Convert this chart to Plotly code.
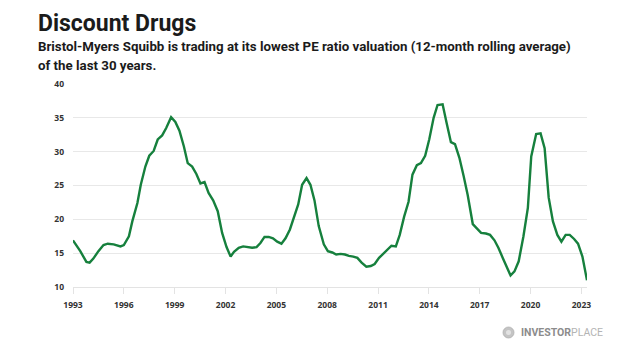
import plotly.graph_objects as go

W, H = 624, 351
ML, MR, MT, MB = 73, 37, 84, 64

years = [1993.00, 1993.43, 1993.79, 1993.98, 1994.20, 1994.50, 1994.80, 1995.05, 1995.40, 1995.80,
         1996.00, 1996.30, 1996.50, 1996.80, 1997.00, 1997.27, 1997.50, 1997.76, 1998.00, 1998.26,
         1998.50, 1998.79, 1999.04, 1999.28, 1999.54, 1999.77, 2000.03, 2000.28, 2000.52, 2000.76,
         2001.00, 2001.27, 2001.54, 2001.80, 2002.06, 2002.30, 2002.50, 2002.78, 2003.04, 2003.28,
         2003.57, 2003.83, 2004.06, 2004.30, 2004.55, 2004.80, 2005.05, 2005.30, 2005.54, 2005.80,
         2006.03, 2006.29, 2006.52, 2006.78, 2007.01, 2007.25, 2007.50, 2007.80, 2008.04, 2008.30,
         2008.53, 2008.79, 2009.05, 2009.28, 2009.54, 2009.78, 2010.03, 2010.31, 2010.57, 2010.80,
         2011.06, 2011.30, 2011.55, 2011.79, 2012.05, 2012.28, 2012.54, 2012.80, 2013.03, 2013.29,
         2013.53, 2013.78, 2014.02, 2014.28, 2014.51, 2014.81, 2015.05, 2015.30, 2015.54, 2015.80,
         2016.05, 2016.29, 2016.59, 2016.84, 2017.08, 2017.37, 2017.61, 2017.87, 2018.10, 2018.36,
         2018.60, 2018.82, 2019.05, 2019.30, 2019.58, 2019.84, 2020.04, 2020.33, 2020.59, 2020.83,
         2021.07, 2021.32, 2021.58, 2021.82, 2022.07, 2022.31, 2022.57, 2022.80, 2023.06, 2023.33]

pe_ratio = [16.9, 15.3, 13.7, 13.6, 14.2, 15.3, 16.2, 16.4, 16.3, 16.0,
            16.2, 17.5, 19.7, 22.4, 25.1, 27.8, 29.4, 30.1, 31.8, 32.4,
            33.5, 35.1, 34.4, 33.1, 30.8, 28.3, 27.8, 26.7, 25.3, 25.5,
            23.9, 22.8, 21.2, 18.0, 15.9, 14.5, 15.2, 15.8, 16.0, 15.9,
            15.8, 15.9, 16.5, 17.4, 17.4, 17.2, 16.7, 16.4, 17.2, 18.5,
            20.2, 22.2, 25.1, 26.1, 25.1, 22.8, 19.0, 16.3, 15.3, 15.1,
            14.8, 14.9, 14.8, 14.6, 14.5, 14.3, 13.6, 13.0, 13.1, 13.4,
            14.3, 14.9, 15.5, 16.1, 16.0, 17.7, 20.4, 22.6, 26.6, 28.0,
            28.3, 29.4, 31.8, 35.0, 36.9, 37.0, 34.2, 31.4, 31.1, 29.1,
            26.4, 23.6, 19.3, 18.6, 18.0, 17.9, 17.7, 16.9, 15.8, 14.3,
            12.8, 11.7, 12.3, 13.8, 17.5, 21.7, 29.3, 32.6, 32.7, 30.5,
            23.2, 19.7, 17.7, 16.7, 17.7, 17.7, 17.1, 16.4, 14.5, 11.0]

x_ticks = [1993, 1996, 1999, 2002, 2005, 2008, 2011, 2014, 2017, 2020, 2023]
y_ticks = [10, 15, 20, 25, 30, 35, 40]

title = "Discount Drugs"
subtitle1 = "Bristol-Myers Squibb is trading at its lowest PE ratio valuation (12-month rolling average)"
subtitle2 = "of the last 30 years."

PW = W - ML - MR
PH = H - MT - MB


def px(x):
    return (x - ML) / PW


def py(y):
    return (H - MB - y) / PH


fig = go.Figure()
fig.add_trace(go.Scatter(
    x=years, y=pe_ratio, mode="lines",
    line=dict(color="#16803d", width=2.4),
    hoverinfo="skip", showlegend=False,
))

tick_font = dict(family="Open Sans", size=8.5, color="#333333", weight="bold")

fig.update_layout(
    width=W, height=H,
    margin=dict(l=ML, r=MR, t=MT, b=MB, pad=0),
    paper_bgcolor="white", plot_bgcolor="white",
    xaxis=dict(
        range=[1993, 2023.33], tickvals=x_ticks, ticktext=[str(t) for t in x_ticks],
        showgrid=False, zeroline=False, showline=True, linecolor="#e3e3e3", linewidth=1.3,
        ticks="outside", ticklen=6, tickcolor="#e3e3e3", tickwidth=1,
        tickfont=tick_font, ticklabelstandoff=4, fixedrange=True,
    ),
    yaxis=dict(
        range=[10, 40], tickvals=y_ticks, ticktext=[str(t) for t in y_ticks],
        showgrid=True, gridcolor="#e8e8e8", gridwidth=1.3, zeroline=False, showline=False,
        ticks="", tickfont=tick_font, ticklabelstandoff=8, fixedrange=True,
    ),
    font=dict(family="Roboto"),
)

ann = [
    dict(text=title, x=px(36), y=py(24), xanchor="left", yanchor="middle",
         font=dict(family="Roboto", size=23, color="#1b1b1b", weight="bold")),
    dict(text=subtitle1, x=px(36), y=py(47), xanchor="left", yanchor="middle",
         font=dict(family="Roboto", size=13.3, color="#1b1b1b", weight="bold")),
    dict(text=subtitle2, x=px(36), y=py(65.5), xanchor="left", yanchor="middle",
         font=dict(family="Roboto", size=13.3, color="#1b1b1b", weight="bold")),
    dict(text="<b>INVESTOR</b><span style='color:#b4b4b4'>PLACE</span>",
         x=px(518.5), y=py(332.5), xanchor="left", yanchor="middle",
         font=dict(family="Roboto", size=10.5, color="#8c8c8c")),
]
for a in ann:
    a.update(xref="paper", yref="paper", showarrow=False, align="left")
fig.update_layout(annotations=ann)

# logo icon
fig.add_shape(type="circle", xref="paper", yref="paper",
              xsizemode="pixel", ysizemode="pixel",
              xanchor=px(508.5), yanchor=py(332.5),
              x0=-5.5, x1=5.5, y0=-5.5, y1=5.5,
              fillcolor="#c4c4c4", line=dict(color="#b0b0b0", width=0.8))
fig.add_shape(type="circle", xref="paper", yref="paper",
              xsizemode="pixel", ysizemode="pixel",
              xanchor=px(508.5), yanchor=py(332.5),
              x0=-2.5, x1=2.5, y0=-2.5, y1=2.5,
              fillcolor="#e2e2e2", line=dict(width=0))

fig.write_html("out.html", config={"displayModeBar": False})
